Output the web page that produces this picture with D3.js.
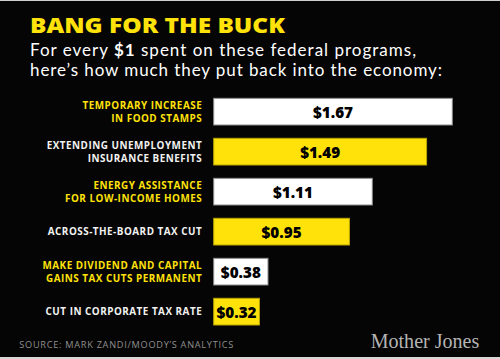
<!DOCTYPE html>
<html><head><meta charset="utf-8">
<script src="https://cdn.jsdelivr.net/npm/d3@7"></script>
<style>body{margin:0;background:#000}svg{display:block}</style></head>
<body>
<script>
const programs = [
  ["TEMPORARY INCREASE", "IN FOOD STAMPS"],
  ["EXTENDING UNEMPLOYMENT", "INSURANCE BENEFITS"],
  ["ENERGY ASSISTANCE", "FOR LOW-INCOME HOMES"],
  ["ACROSS-THE-BOARD TAX CUT"],
  ["MAKE DIVIDEND AND CAPITAL", "GAINS TAX CUTS PERMANENT"],
  ["CUT IN CORPORATE TAX RATE"]
];
const values = [1.67, 1.49, 1.11, 0.95, 0.38, 0.32];
const valueLabels = ["$1.67", "$1.49", "$1.11", "$0.95", "$0.38", "$0.32"];
const title = "BANG FOR THE BUCK";
const subtitle1 = ["For every ", "$1", " spent on these federal programs,"];
const subtitle2 = "here\u2019s how much they put back into the economy:";
const source = "SOURCE: MARK ZANDI/MOODY\u2019S ANALYTICS";
const brand = "Mother Jones";

const W = 500, H = 359;
const YEL = "#ffe20a";
const svg = d3.select("body").append("svg").attr("width", W).attr("height", H);
svg.append("rect").attr("width", W).attr("height", H).attr("fill", "#050505");
svg.append("rect").attr("x", 0).attr("y", 0).attr("width", W).attr("height", 1).attr("fill", "#d0d0d0");
svg.append("rect").attr("x", 0).attr("y", 357).attr("width", W).attr("height", 2).attr("fill", "#d8d8d8");

const sans = "'Open Sans', 'Noto Sans', sans-serif";
const hum = "Lato, Roboto, sans-serif";

function fit(sel, target) {
  for (let i = 0; i < 3; i++) {
    const fs = parseFloat(sel.attr("font-size"));
    const w = sel.node().getComputedTextLength();
    sel.attr("font-size", fs * target / w);
  }
}
function spacingFor(sel, target) {
  sel.attr("letter-spacing", 0);
  const w0 = sel.node().getComputedTextLength();
  const n = sel.text().length - 1;
  return (target - w0) / n;
}

// Title
svg.append("text").attr("x", 30).attr("y", 33.3)
  .attr("font-family", sans).attr("font-weight", 800).attr("font-size", 21)
  .attr("textLength", 255).attr("lengthAdjust", "spacingAndGlyphs")
  .attr("fill", YEL).text(title);

const s1 = svg.append("text").attr("x", 30).attr("y", 56.3)
  .attr("font-family", hum).attr("font-size", 17).attr("fill", "#fff");
s1.selectAll("tspan").data(subtitle1).join("tspan")
  .attr("font-weight", (d, i) => i === 1 ? 700 : 400).text(d => d);
fit(s1, 386);
s1.attr("font-size", Math.min(17, parseFloat(s1.attr("font-size"))));
const s1w = s1.node().getComputedTextLength();
s1.attr("letter-spacing", (386 - s1w) / 44);

const s2 = svg.append("text").attr("x", 30).attr("y", 76.3)
  .attr("font-family", hum).attr("font-size", s1.attr("font-size")).attr("fill", "#fff").text(subtitle2);
s2.attr("letter-spacing", spacingFor(s2, 412));

// Scales
const x = d3.scaleLinear().domain([0, values[0]]).range([213.7, 452.3]);
const y = d3.scaleBand().domain(d3.range(values.length))
  .range([98.3, 325]).paddingInner(13.3 / 40).paddingOuter(0);

const g = svg.append("g");
g.selectAll("rect.bar").data(values).join("rect").attr("class", "bar")
  .attr("x", x(0)).attr("y", (d, i) => y(i))
  .attr("width", d => x(d) - x(0)).attr("height", y.bandwidth())
  .attr("fill", (d, i) => i % 2 ? YEL : "#fff")
  .attr("stroke", (d, i) => i % 2 ? "#b9a400" : "#8c8c8c").attr("stroke-width", 1);

g.selectAll("text.val").data(values).join("text").attr("class", "val")
  .attr("x", d => (x(d) + x(0)) / 2)
  .attr("y", (d, i) => y(i) + y.bandwidth() / 2 + 6)
  .attr("text-anchor", "middle")
  .attr("font-family", sans).attr("font-weight", 800).attr("font-size", 16)
  .attr("fill", "#000").text((d, i) => valueLabels[i])
  .each(function () { fit(d3.select(this), 40); });

// Category labels: common letter spacing derived from one measured line
const LFS = 9.9;
const probe = svg.append("text").attr("font-family", sans).attr("font-weight", 700)
  .attr("font-size", LFS).text(programs[1][0]);
const ls = spacingFor(probe, 155);
probe.remove();
programs.forEach((lines, i) => {
  const cy = y(i) + y.bandwidth() / 2;
  const base = lines.length === 1 ? cy + 3.6 : cy - 3.1;
  lines.forEach((ln, j) => {
    svg.append("text").attr("x", 201.7 + ls).attr("y", base + j * 13.4)
      .attr("text-anchor", "end")
      .attr("font-family", sans).attr("font-weight", 700).attr("font-size", LFS)
      .attr("letter-spacing", ls)
      .attr("fill", i % 2 ? "#f2f2f2" : YEL).text(ln);
  });
});

// Footer
const src = svg.append("text").attr("x", 19.3).attr("y", 348.3)
  .attr("font-family", sans).attr("font-size", 9.2)
  .attr("fill", "#8f8f8f").text(source);
src.attr("letter-spacing", spacingFor(src, 214));
const mj = svg.append("text").attr("x", 370.7).attr("y", 348.3)
  .attr("font-family", "'Liberation Serif', 'DejaVu Serif', serif").attr("font-size", 19)
  .attr("fill", "#b4b4b4").text(brand);
fit(mj, 108.6);
</script>
</body></html>
